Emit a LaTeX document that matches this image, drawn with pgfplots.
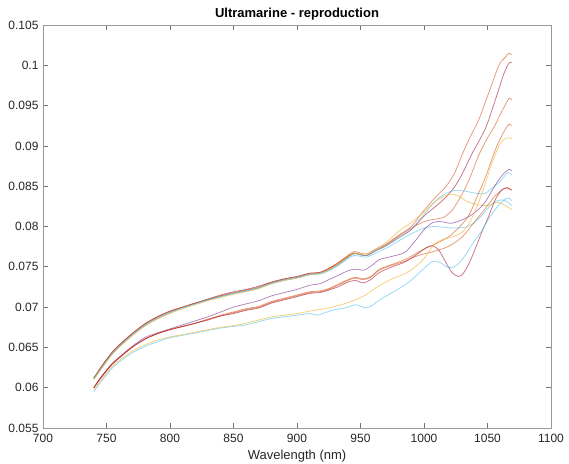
\documentclass[border=0pt]{standalone}
\usepackage{fontspec}
\setmainfont{Liberation Sans}
\usepackage{pgfplots}
\pgfplotsset{compat=1.18}
\definecolor{mOrange}{RGB}{217,83,25}
\definecolor{mYellow}{RGB}{237,177,32}
\definecolor{mPurple}{RGB}{126,47,142}
\definecolor{mLBlue}{RGB}{77,190,238}
\definecolor{mDRed}{RGB}{162,20,47}
\definecolor{txt}{RGB}{38,38,38}
\begin{document}
\begin{tikzpicture}
\begin{axis}[
  at={(43pt,35pt)}, anchor=south west,
  width=508pt, height=403pt, scale only axis,
  xmin=700, xmax=1100, ymin=0.055, ymax=0.105,
  xtick={700,750,800,850,900,950,1000,1050,1100},
  ytick={0.055,0.06,0.065,0.07,0.075,0.08,0.085,0.09,0.095,0.1,0.105},
  yticklabels={0.055,0.06,0.065,0.07,0.075,0.08,0.085,0.09,0.095,0.1,0.105},
  /pgf/number format/assume math mode=true,
  /pgf/number format/1000 sep={},
  tick align=inside, major tick length=5pt,
  axis line style={draw=black!40, line width=0.8pt},
  tick style={draw=black!55, line width=0.6pt},
  ticklabel style={font=\fontsize{12}{14}\selectfont, text=txt},
  x tick label style={yshift=-2.5pt},
  y tick label style={xshift=-1pt},
  title={Ultramarine - reproduction},
  title style={font=\bfseries\fontsize{13}{15}\selectfont, text=black, at={(0.5,1)}, anchor=south, inner sep=0pt, yshift=-1pt},
  xlabel={Wavelength (nm)},
  xlabel style={font=\fontsize{13}{15}\selectfont, text=txt, at={(0.5,0)}, anchor=north, inner sep=0pt, yshift=-22pt},
  every axis plot/.append style={line width=0.75pt, opacity=0.6, smooth, no marks},
]
% S1 salmon top
\addplot[mOrange] coordinates {(740,0.0612)(745,0.0624)(750,0.0635)(755,0.0645)(760,0.0653)(770,0.0667)(780,0.0679)(790,0.0688)(800,0.0695)(810,0.0700)(820,0.0705)(830,0.0710)(840,0.0714)(850,0.0718)(860,0.0721)(870,0.0725)(880,0.0731)(890,0.0735)(900,0.0738)(910,0.0742)(918,0.0743)(925,0.0748)(932,0.0755)(940,0.0764)(945,0.0769)(950,0.0767)(955,0.0766)(962,0.0772)(970,0.0778)(980,0.0789)(990,0.0800)(1000,0.0820)(1010,0.0838)(1017,0.0849)(1024,0.0866)(1030,0.0889)(1036,0.0910)(1043,0.0932)(1051,0.0966)(1059,0.1000)(1064,0.1010)(1067,0.1015)(1069,0.1013)};
% R1 dark red top
\addplot[mDRed] coordinates {(740,0.0612)(745,0.0624)(750,0.0635)(755,0.0645)(760,0.0653)(770,0.0667)(780,0.0679)(790,0.0688)(800,0.0695)(810,0.0700)(820,0.0705)(830,0.0710)(840,0.0715)(850,0.0719)(860,0.0722)(870,0.0726)(880,0.0731)(890,0.0735)(900,0.0738)(910,0.0742)(918,0.0743)(925,0.0748)(932,0.0754)(940,0.0763)(945,0.0767)(950,0.0765)(955,0.0764)(962,0.0770)(970,0.0776)(980,0.0786)(990,0.0796)(1000,0.0813)(1010,0.0826)(1017,0.0836)(1024,0.0849)(1030,0.0865)(1038,0.0891)(1044,0.0908)(1049,0.0924)(1053,0.0942)(1057,0.0961)(1063,0.0990)(1067,0.1003)(1069,0.1003)};
% O3 orange
\addplot[mOrange] coordinates {(740,0.0612)(745,0.0623)(750,0.0634)(755,0.0644)(760,0.0652)(770,0.0666)(780,0.0678)(790,0.0687)(800,0.0694)(810,0.0700)(820,0.0705)(830,0.0709)(840,0.0714)(850,0.0717)(860,0.0721)(870,0.0724)(880,0.0730)(890,0.0734)(900,0.0737)(910,0.0741)(918,0.0742)(925,0.0747)(932,0.0753)(940,0.0762)(945,0.0767)(950,0.0765)(955,0.0764)(962,0.0770)(970,0.0777)(980,0.0788)(990,0.0798)(1000,0.0806)(1008,0.0809)(1015,0.0811)(1022,0.0820)(1030,0.0840)(1036,0.0860)(1043,0.0888)(1050,0.0910)(1055,0.0923)(1062,0.0945)(1067,0.0959)(1069,0.0957)};
% LB7 light blue plateau
\addplot[mLBlue] coordinates {(740,0.0611)(745,0.0622)(750,0.0633)(755,0.0643)(760,0.0651)(770,0.0665)(780,0.0677)(790,0.0686)(800,0.0693)(810,0.0699)(820,0.0704)(830,0.0709)(840,0.0713)(850,0.0717)(860,0.0720)(870,0.0724)(880,0.0730)(890,0.0734)(900,0.0737)(910,0.0741)(918,0.0742)(925,0.0746)(932,0.0752)(940,0.0761)(945,0.0766)(950,0.0765)(955,0.0764)(962,0.0770)(970,0.0776)(980,0.0786)(990,0.0797)(1000,0.0815)(1008,0.0830)(1014,0.0838)(1020,0.0843)(1027,0.0845)(1035,0.0843)(1042,0.0841)(1048,0.0841)(1054,0.0848)(1060,0.0856)(1066,0.0867)(1069,0.0864)};
% LB11 light blue 0.080 plateau
\addplot[mLBlue] coordinates {(740,0.0611)(745,0.0622)(750,0.0633)(755,0.0643)(760,0.0651)(770,0.0665)(780,0.0677)(790,0.0686)(800,0.0693)(810,0.0699)(820,0.0704)(830,0.0709)(840,0.0713)(850,0.0717)(860,0.0720)(870,0.0724)(880,0.0729)(890,0.0733)(900,0.0736)(910,0.0740)(918,0.0741)(925,0.0745)(932,0.0751)(940,0.0760)(945,0.0764)(950,0.0763)(955,0.0762)(962,0.0767)(970,0.0773)(980,0.0782)(990,0.0791)(1000,0.0798)(1008,0.0800)(1016,0.0799)(1024,0.0798)(1032,0.0799)(1038,0.0803)(1044,0.0811)(1050,0.0822)(1056,0.0831)(1062,0.0833)(1066,0.0830)(1069,0.0826)};
% YA yellow peak
\addplot[mYellow] coordinates {(740,0.0610)(745,0.0621)(750,0.0632)(755,0.0642)(760,0.0650)(770,0.0664)(780,0.0676)(790,0.0685)(800,0.0692)(810,0.0698)(820,0.0703)(830,0.0708)(840,0.0712)(850,0.0716)(860,0.0719)(870,0.0723)(880,0.0729)(890,0.0733)(900,0.0736)(910,0.0740)(918,0.0742)(925,0.0746)(932,0.0753)(940,0.0762)(945,0.0767)(950,0.0766)(955,0.0766)(962,0.0772)(970,0.0780)(980,0.0794)(990,0.0805)(1000,0.0818)(1008,0.0830)(1015,0.0837)(1021,0.0840)(1027,0.0838)(1034,0.0831)(1042,0.0827)(1050,0.0826)(1058,0.0830)(1064,0.0826)(1069,0.0821)};
% P6 purple
\addplot[mPurple] coordinates {(740,0.0600)(745,0.0612)(750,0.0622)(755,0.0631)(760,0.0638)(770,0.0651)(780,0.0662)(790,0.0668)(800,0.0673)(810,0.0678)(820,0.0683)(830,0.0688)(840,0.0694)(850,0.0700)(860,0.0704)(870,0.0708)(880,0.0714)(890,0.0718)(900,0.0722)(910,0.0727)(918,0.0729)(925,0.0734)(932,0.0739)(940,0.0745)(946,0.0747)(953,0.0746)(960,0.0753)(965,0.0759)(975,0.0763)(985,0.0768)(993,0.0782)(1000,0.0796)(1007,0.0805)(1014,0.0806)(1021,0.0804)(1028,0.0807)(1035,0.0812)(1042,0.0820)(1048,0.0830)(1053,0.0843)(1058,0.0856)(1063,0.0866)(1067,0.0871)(1069,0.0869)};
% O4 orange
\addplot[mOrange] coordinates {(740,0.0600)(745,0.0611)(750,0.0621)(755,0.0630)(760,0.0637)(770,0.0650)(780,0.0660)(790,0.0667)(800,0.0672)(810,0.0676)(820,0.0680)(830,0.0685)(840,0.0690)(850,0.0694)(860,0.0698)(870,0.0701)(880,0.0707)(890,0.0711)(900,0.0715)(910,0.0719)(918,0.0720)(925,0.0723)(932,0.0728)(940,0.0734)(946,0.0737)(952,0.0735)(958,0.0738)(965,0.0747)(975,0.0753)(985,0.0759)(992,0.0765)(1000,0.0772)(1010,0.0779)(1020,0.0788)(1030,0.0803)(1036,0.0816)(1041,0.0834)(1046,0.0852)(1050,0.0868)(1054,0.0886)(1058,0.0902)(1062,0.0915)(1065,0.0923)(1067,0.0927)(1069,0.0925)};
% O9 orange low
\addplot[mOrange] coordinates {(740,0.0600)(745,0.0611)(750,0.0621)(755,0.0630)(760,0.0637)(770,0.0650)(780,0.0660)(790,0.0667)(800,0.0672)(810,0.0676)(820,0.0680)(830,0.0685)(840,0.0689)(850,0.0693)(860,0.0697)(870,0.0700)(880,0.0706)(890,0.0710)(900,0.0714)(910,0.0718)(918,0.0719)(925,0.0722)(932,0.0727)(940,0.0733)(946,0.0736)(952,0.0734)(958,0.0737)(965,0.0746)(975,0.0752)(985,0.0757)(992,0.0762)(1000,0.0766)(1010,0.0770)(1020,0.0776)(1030,0.0787)(1040,0.0806)(1050,0.0826)(1056,0.0838)(1062,0.0846)(1066,0.0848)(1069,0.0845)};
% R8 dark red dip
\addplot[mDRed] coordinates {(740,0.0600)(745,0.0611)(750,0.0621)(755,0.0630)(760,0.0637)(770,0.0650)(780,0.0660)(790,0.0667)(800,0.0672)(810,0.0676)(820,0.0680)(830,0.0684)(840,0.0689)(850,0.0692)(860,0.0696)(870,0.0699)(880,0.0705)(890,0.0709)(900,0.0713)(910,0.0717)(918,0.0718)(925,0.0721)(932,0.0725)(940,0.0731)(946,0.0733)(952,0.0730)(958,0.0734)(965,0.0743)(975,0.0750)(985,0.0756)(995,0.0766)(1002,0.0774)(1007,0.0776)(1012,0.0770)(1017,0.0756)(1022,0.0743)(1027,0.0738)(1031,0.0742)(1036,0.0756)(1041,0.0775)(1046,0.0795)(1051,0.0813)(1056,0.0833)(1061,0.0845)(1065,0.0848)(1069,0.0845)};
% LB10 light blue dip (group C)
\addplot[mLBlue] coordinates {(740,0.0595)(745,0.0606)(750,0.0616)(755,0.0625)(760,0.0632)(770,0.0643)(780,0.0651)(790,0.0657)(800,0.0662)(810,0.0665)(820,0.0668)(830,0.0671)(840,0.0674)(850,0.0676)(860,0.0678)(870,0.0682)(880,0.0686)(890,0.0688)(900,0.0690)(910,0.0692)(916,0.0690)(922,0.0693)(930,0.0697)(938,0.0699)(946,0.0703)(950,0.0701)(955,0.0699)(960,0.0703)(965,0.0709)(975,0.0718)(988,0.0731)(1000,0.0748)(1007,0.0757)(1013,0.0755)(1019,0.0749)(1025,0.0751)(1031,0.0761)(1038,0.0778)(1046,0.0796)(1052,0.0812)(1059,0.0827)(1064,0.0834)(1067,0.0835)(1069,0.0832)};
% Y5 yellow (group C)
\addplot[mYellow] coordinates {(740,0.0597)(745,0.0608)(750,0.0618)(755,0.0627)(760,0.0634)(770,0.0645)(780,0.0653)(790,0.0659)(800,0.0663)(810,0.0666)(820,0.0669)(830,0.0672)(840,0.0675)(850,0.0677)(860,0.0680)(870,0.0684)(880,0.0688)(890,0.0690)(900,0.0692)(910,0.0695)(918,0.0697)(925,0.0699)(935,0.0703)(946,0.0709)(955,0.0716)(964,0.0726)(975,0.0735)(988,0.0744)(1000,0.0760)(1008,0.0778)(1015,0.0784)(1022,0.0787)(1030,0.0793)(1036,0.0805)(1041,0.0822)(1046,0.0843)(1050,0.0862)(1055,0.0885)(1060,0.0903)(1064,0.0909)(1067,0.0910)(1069,0.0909)};
\end{axis}
\pgfresetboundingbox
\path (0,0) rectangle (569pt,463pt);
\end{tikzpicture}
\end{document}
